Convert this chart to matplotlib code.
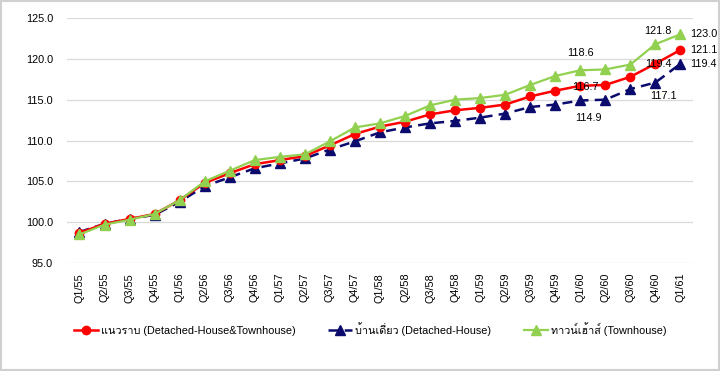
import matplotlib
matplotlib.use("Agg")
import matplotlib.pyplot as plt
from matplotlib import font_manager
from matplotlib.ft2font import FT2Font
from matplotlib.patches import Rectangle

# Quarters (Thai Buddhist year)
quarters = ["Q1/55", "Q2/55", "Q3/55", "Q4/55",
            "Q1/56", "Q2/56", "Q3/56", "Q4/56",
            "Q1/57", "Q2/57", "Q3/57", "Q4/57",
            "Q1/58", "Q2/58", "Q3/58", "Q4/58",
            "Q1/59", "Q2/59", "Q3/59", "Q4/59",
            "Q1/60", "Q2/60", "Q3/60", "Q4/60",
            "Q1/61"]

overall = [98.7, 99.8, 100.4, 101.0, 102.7, 104.8, 106.0, 107.1, 107.6, 108.1,
           109.4, 110.8, 111.7, 112.3, 113.2, 113.7, 114.0, 114.4, 115.4, 116.1,
           116.7, 116.8, 117.8, 119.4, 121.1]
detached = [98.8, 99.8, 100.4, 100.9, 102.5, 104.4, 105.5, 106.6, 107.2, 107.8,
            108.9, 109.9, 111.0, 111.6, 112.1, 112.4, 112.8, 113.3, 114.1, 114.4,
            114.9, 115.0, 116.3, 117.1, 119.4]
townhouse = [98.5, 99.7, 100.3, 101.0, 102.7, 105.0, 106.3, 107.6, 108.0, 108.3,
             109.9, 111.6, 112.1, 113.0, 114.3, 115.0, 115.2, 115.6, 116.8, 117.9,
             118.6, 118.7, 119.3, 121.8, 123.0]

series_labels = ["แนวราบ (Detached-House&Townhouse)",
                 "บ้านเดี่ยว (Detached-House)",
                 "ทาวน์เฮ้าส์ (Townhouse)"]


def thai_families():
    # look for installed fonts that actually carry Thai glyphs
    found = []
    for f in font_manager.fontManager.ttflist:
        try:
            ft = FT2Font(f.fname)
            if all(ft.get_char_index(ord(c)) for c in "นวราบเดี่ยทาวน์ฮ้ส"):
                if f.name not in found:
                    found.append(f.name)
        except Exception:
            pass
    return found


thai = thai_families()
fonts = ["Liberation Sans"] + thai + ["DejaVu Sans"]
plt.rcParams["font.family"] = fonts

fig = plt.figure(figsize=(7.2, 3.71), dpi=100)
ax = fig.add_axes([0.093, 0.291, 0.8695, 0.6605])

x = list(range(len(quarters)))
l2, = ax.plot(x, detached, color="#0b0b6e", lw=1.8, ls=(0, (4, 2.5)),
              marker="^", ms=6.5, zorder=3, label=series_labels[1])
l1, = ax.plot(x, overall, color="#ff0000", lw=1.8, marker="o", ms=6,
              zorder=4, label=series_labels[0])
l3, = ax.plot(x, townhouse, color="#92d050", lw=1.6, marker="^", ms=7,
              zorder=5, label=series_labels[2])

ax.set_xlim(-0.5, len(quarters) - 0.5)
ax.set_ylim(95, 125)
ax.set_yticks([95, 100, 105, 110, 115, 120, 125])
ax.set_yticklabels([f"{v:.1f}" for v in ax.get_yticks()])
ax.set_xticks(x)
ax.set_xticklabels(quarters, rotation=90)
ax.tick_params(axis="y", length=0, pad=10, labelsize=7.8)
ax.tick_params(axis="x", length=0, pad=7, labelsize=7.8)
ax.grid(axis="y", color="#d9d9d9", lw=0.9)
ax.set_axisbelow(True)
for s in ax.spines.values():
    s.set_visible(False)

# data labels
fs = 7.8
i = quarters.index("Q1/60")
ax.annotate(f"{townhouse[i]:.1f}", (i, townhouse[i]), xytext=(0, 9),
            textcoords="offset points", ha="center", va="bottom", fontsize=fs)
ax.annotate(f"{overall[i]:.1f}", (i, overall[i]), xytext=(4, -1),
            textcoords="offset points", ha="center", va="center", fontsize=fs, zorder=6)
ax.annotate(f"{detached[i]:.1f}", (i, detached[i]), xytext=(6, -9),
            textcoords="offset points", ha="center", va="top", fontsize=fs)
i = quarters.index("Q4/60")
ax.annotate(f"{townhouse[i]:.1f}", (i, townhouse[i]), xytext=(2, 6),
            textcoords="offset points", ha="center", va="bottom", fontsize=fs)
ax.annotate(f"{overall[i]:.1f}", (i, overall[i]), xytext=(2, 0),
            textcoords="offset points", ha="center", va="center", fontsize=fs, zorder=6)
ax.annotate(f"{detached[i]:.1f}", (i, detached[i]), xytext=(6, -6),
            textcoords="offset points", ha="center", va="top", fontsize=fs)
i = quarters.index("Q1/61")
for series in (townhouse, overall, detached):
    ax.annotate(f"{series[i]:.1f}", (i, series[i]), xytext=(7, 0),
                textcoords="offset points", ha="left", va="center", fontsize=fs,
                annotation_clip=False)

fig.legend(handles=[l1, l2, l3], loc="center", bbox_to_anchor=(0.514, 0.113),
           ncol=3, frameon=False, fontsize=7.8, handlelength=2.2,
           columnspacing=3.0, handletextpad=0.3)

fig.patches.append(Rectangle((0.001, 0.002), 0.997, 0.995, transform=fig.transFigure,
                             fill=False, edgecolor="#d0d0d0", lw=1.5))

fig.savefig("out.png", dpi=100, facecolor="white")
